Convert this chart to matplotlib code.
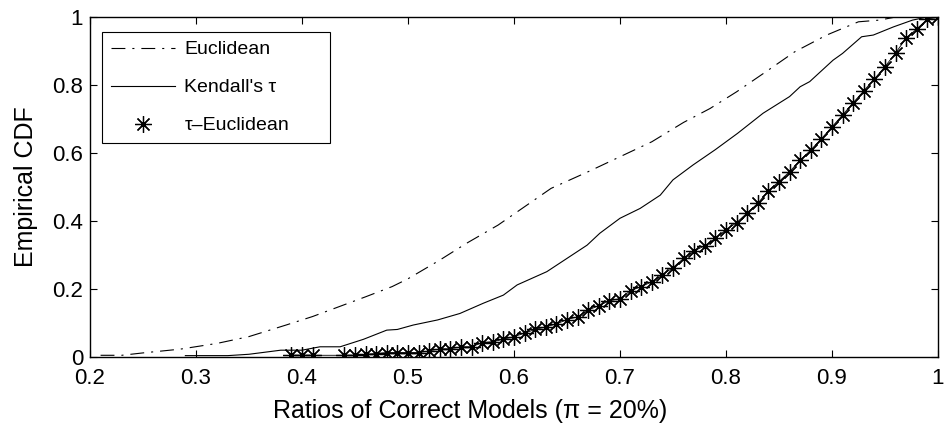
import matplotlib
matplotlib.use("Agg")
import matplotlib.pyplot as plt

plt.rcParams['font.family'] = ['Liberation Sans', 'DejaVu Sans']
plt.rcParams['lines.scale_dashes'] = False

# Euclidean (dash-dot)
eu_x = [0.21, 0.23, 0.25, 0.285, 0.32, 0.35, 0.385, 0.41, 0.435, 0.46, 0.485, 0.5,
        0.53, 0.555, 0.585, 0.61, 0.635, 0.67, 0.7, 0.73, 0.76, 0.785, 0.81, 0.84,
        0.865, 0.895, 0.925, 0.945, 0.96, 1.0]
eu_y = [0.005, 0.005, 0.012, 0.023, 0.04, 0.06, 0.094, 0.119, 0.148, 0.177, 0.207, 0.23,
        0.285, 0.334, 0.388, 0.442, 0.496, 0.545, 0.589, 0.633, 0.69, 0.731, 0.78, 0.844,
        0.898, 0.947, 0.986, 0.991, 1.0, 1.0]

# Kendall's tau (solid)
kt_x = [0.29, 0.33, 0.35, 0.38, 0.40, 0.417, 0.436, 0.458, 0.48, 0.49, 0.505, 0.528,
        0.549, 0.571, 0.59, 0.603, 0.631, 0.65, 0.669, 0.681, 0.70, 0.719, 0.738, 0.75,
        0.769, 0.79, 0.811, 0.835, 0.86, 0.87, 0.879, 0.901, 0.91, 0.928, 0.939, 0.958,
        0.976, 0.99, 1.0]
kt_y = [0.004, 0.004, 0.008, 0.02, 0.02, 0.03, 0.03, 0.052, 0.079, 0.081, 0.094, 0.109,
        0.128, 0.158, 0.182, 0.212, 0.251, 0.29, 0.329, 0.364, 0.408, 0.437, 0.476, 0.521,
        0.565, 0.61, 0.658, 0.717, 0.766, 0.795, 0.81, 0.873, 0.893, 0.942, 0.947, 0.971,
        0.991, 1.0, 1.0]

# tau-Euclidean (stars)
te_x = [0.39, 0.40, 0.41, 0.44, 0.45, 0.46, 0.47, 0.48, 0.49, 0.50, 0.51, 0.52, 0.53,
        0.54, 0.55, 0.56, 0.57, 0.58, 0.59, 0.60, 0.61, 0.62, 0.63, 0.64, 0.65, 0.66,
        0.67, 0.68, 0.69, 0.70, 0.71, 0.72, 0.73, 0.74, 0.75, 0.76, 0.77, 0.78, 0.79,
        0.80, 0.81, 0.82, 0.83, 0.84, 0.85, 0.86, 0.87, 0.88, 0.89, 0.90, 0.91, 0.92,
        0.93, 0.94, 0.95, 0.96, 0.97, 0.98, 0.99, 1.00]
te_y = [0.005, 0.005, 0.005, 0.005, 0.005, 0.008, 0.01, 0.013, 0.013, 0.013, 0.013, 0.018,
        0.024, 0.024, 0.03, 0.03, 0.042, 0.045, 0.052, 0.06, 0.07, 0.081, 0.089, 0.097,
        0.11, 0.118, 0.138, 0.151, 0.165, 0.172, 0.195, 0.207, 0.221, 0.241, 0.263, 0.29,
        0.312, 0.327, 0.349, 0.374, 0.395, 0.424, 0.452, 0.489, 0.516, 0.545, 0.579, 0.609,
        0.642, 0.677, 0.712, 0.748, 0.783, 0.818, 0.854, 0.894, 0.938, 0.965, 0.994, 1.0]

fig = plt.figure(figsize=(9.46, 4.26), dpi=100)
ax = fig.add_axes([0.0951, 0.162, 0.8964, 0.798])

ax.plot(eu_x, eu_y, color='k', lw=0.8, dashes=(10, 5, 1.5, 5), label='Euclidean')
ax.plot(kt_x, kt_y, color='k', lw=0.8, label="Kendall's \u03c4")
ax.plot(te_x, te_y, color='k', lw=0.6)
ax.plot(te_x, te_y, ls='none', marker=(8, 2, 0), ms=12, mew=0.9, color='k',
        label='\u03c4\u2013Euclidean')

ax.set_xlim(0.2, 1.0)
ax.set_ylim(0, 1)
ax.set_xticks([0.2, 0.3, 0.4, 0.5, 0.6, 0.7, 0.8, 0.9, 1.0])
ax.set_xticklabels(['0.2', '0.3', '0.4', '0.5', '0.6', '0.7', '0.8', '0.9', '1'])
ax.set_yticks([0, 0.2, 0.4, 0.6, 0.8, 1.0])
ax.set_yticklabels(['0', '0.2', '0.4', '0.6', '0.8', '1'])
ax.tick_params(direction='in', top=True, right=True, length=5, width=0.8,
               labelsize=16)
ax.tick_params(axis='x', pad=8)
ax.tick_params(axis='y', pad=5)
for s in ax.spines.values():
    s.set_linewidth(1.0)

ax.set_xlabel('Ratios of Correct Models (\u03c0 = 20%)', fontsize=18)
ax.xaxis.set_label_coords(0.448, -0.125)
ax.set_ylabel('Empirical CDF', fontsize=18, labelpad=10)

leg = ax.legend(loc='upper left', fontsize=14, fancybox=False, framealpha=1,
                edgecolor='k', handlelength=3.3, handletextpad=0.5,
                borderpad=0.45, labelspacing=1.05, borderaxespad=0,
                mode='expand', bbox_to_anchor=(0.014, 0.0, 0.269, 0.956))
leg.get_frame().set_linewidth(0.8)

fig.savefig('out.png', dpi=100)
